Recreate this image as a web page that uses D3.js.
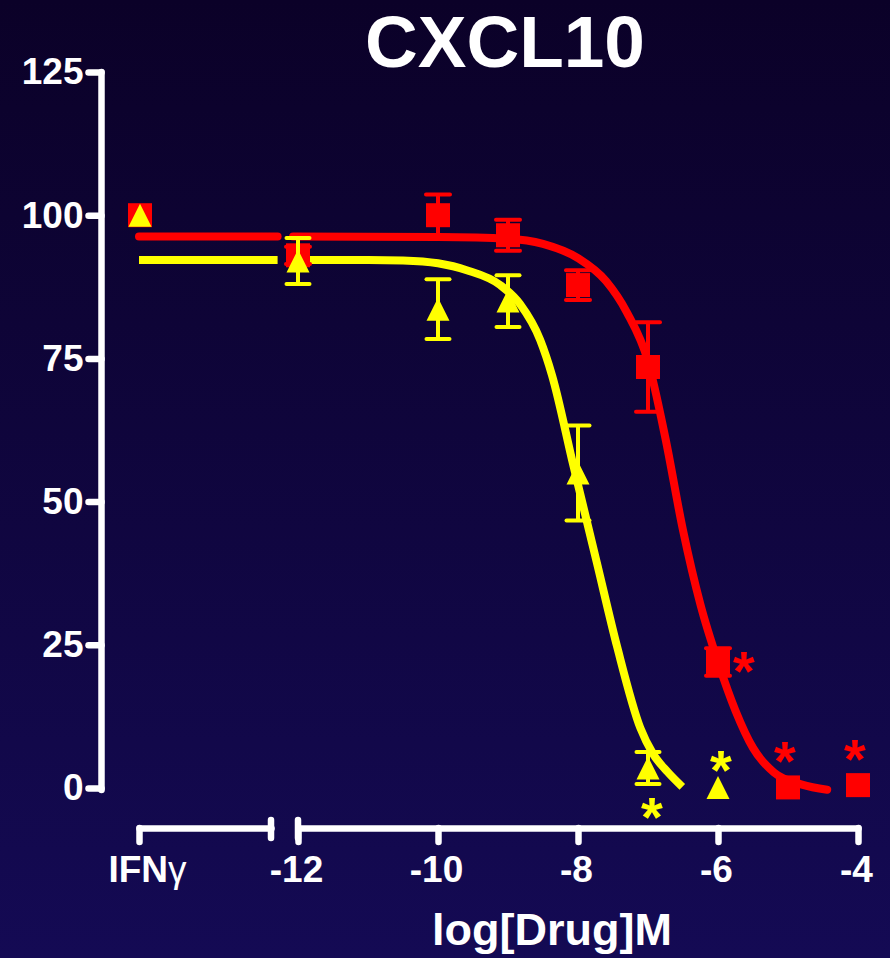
<!DOCTYPE html>
<meta charset="utf-8" />

<head>
  <style>
    body { margin: 0; }
    text { font-family: "Liberation Sans", Arial, sans-serif; font-weight: bold; fill: #fff; }
  </style>
  <script src="https://d3js.org/d3.v7.min.js"></script>
</head>

<body>
  <svg width="890" height="958"></svg>
  <script>
    // doses (log M) and responses (% of IFNγ control)
    const doses = [-12, -10, -9, -8, -7, -6, -5, -4];
    const redMean = [93, 100, 96.5, 87.8, 73.5, 22, 0.1, 0.5];
    const redSem = [1.5, 3.6, 2.7, 2.6, 7.8, 2.4, 0, 0];
    const redSig = [false, false, false, false, false, true, true, true];

    const yellowDoses = [-12, -10, -9, -8, -7, -6];
    const yellowMean = [92, 83.6, 85, 55, 3.5, 0.1];
    const yellowSem = [4, 5.2, 4.5, 8.3, 2.8, 0];
    const yellowSig = [false, false, false, false, true, true];

    const ctrlLabel = "IFNγ";
    const ctrlValue = 100;

    // fitted curves
    const redCurve = [[-12.07, 96.3], [-10, 96.2], [-9, 95.9], [-8.5, 95], [-8, 92.5], [-7.6, 88.5],
      [-7.3, 83], [-7, 74.5], [-6.75, 61], [-6.5, 45], [-6.25, 32], [-6, 22], [-5.75, 13.5],
      [-5.5, 7], [-5.2, 2.7], [-4.8, 0.6], [-4.44, -0.3]];
    const yellowCurve = [[-12.07, 92.2], [-11, 92.2], [-10.5, 92.1], [-10, 91.6], [-9.59, 90.4],
      [-9.11, 87.8], [-8.83, 84.5], [-8.54, 78.2], [-8.37, 72], [-8.07, 56.5], [-7.73, 39.3],
      [-7.44, 24.6], [-7.11, 10.5], [-6.93, 6], [-6.72, 2.8], [-6.51, 0.2]];

    const yTicks = [0, 25, 50, 75, 100, 125];
    const xTicks = [-12, -10, -8, -6, -4];

    const RED = "#ff0000", YEL = "#ffff00";
    const svg = d3.select("svg");

    // background gradient
    const grad = svg.append("defs").append("linearGradient")
      .attr("id", "bg").attr("x1", 0).attr("y1", 0).attr("x2", 0).attr("y2", 1);
    grad.append("stop").attr("offset", "0%").attr("stop-color", "#0b0128");
    grad.append("stop").attr("offset", "100%").attr("stop-color", "#140a54");
    svg.append("rect").attr("width", 890).attr("height", 958).attr("fill", "url(#bg)");

    const y = d3.scaleLinear().domain([0, 125]).range([788, 72]);
    const xLog = d3.scaleLinear().domain([-12, -4]).range([298, 858]);
    const xCtrl = d3.scaleLinear().domain([0, 1]).range([139, 271]);
    const axisY = 828;

    // title and axis title
    svg.append("text").attr("x", 505).attr("y", 67).attr("text-anchor", "middle")
      .style("font-size", "73px").text("CXCL10");
    svg.append("text").attr("x", 552).attr("y", 945).attr("text-anchor", "middle")
      .style("font-size", "45px").text("log[Drug]M");

    // y axis
    const gy = svg.append("g").attr("transform", "translate(101.5,0)")
      .call(d3.axisLeft(y).tickValues(yTicks).tickSize(13).tickSizeOuter(0).tickPadding(5));
    gy.select(".domain").attr("d", "M0," + y(125) + "V" + (y(0) + 2))
      .attr("stroke", "#fff").attr("stroke-width", 6.5).attr("stroke-linecap", "round");
    gy.selectAll(".tick line").attr("stroke", "#fff").attr("stroke-width", 6.5).attr("stroke-linecap", "round");
    gy.selectAll(".tick text").style("font-size", "37px").attr("fill", "#fff")
      .attr("font-family", null);

    // x axis, broken: control segment + log segment
    const gx = svg.append("g").attr("transform", "translate(0," + axisY + ")")
      .call(d3.axisBottom(xLog).tickValues(xTicks).tickFormat(d => String(d))
        .tickSize(14).tickSizeOuter(0).tickPadding(14));
    const gc = svg.append("g").attr("transform", "translate(0," + axisY + ")")
      .call(d3.axisBottom(xCtrl).tickValues([0]).tickFormat(() => ctrlLabel).tickSize(14).tickSizeOuter(0).tickPadding(14));
    [gx, gc].forEach(g => {
      g.select(".domain").attr("stroke", "#fff").attr("stroke-width", 6.5).attr("stroke-linecap", "round");
      g.selectAll(".tick line").attr("stroke", "#fff").attr("stroke-width", 6.5).attr("stroke-linecap", "round");
      g.selectAll(".tick text").style("font-size", "37px").attr("fill", "#fff").attr("font-family", null);
    });
    gx.selectAll(".tick text").attr("dx", -2);
    gc.selectAll(".tick text").attr("dx", 8).text("IFN")
      .append("tspan").style("font-weight", "normal").text(ctrlLabel.slice(3));
    // break caps
    [xCtrl(1), xLog(-12)].forEach(px => {
      svg.append("line").attr("x1", px).attr("x2", px).attr("y1", axisY - 8).attr("y2", axisY + 10)
        .attr("stroke", "#fff").attr("stroke-width", 6.5).attr("stroke-linecap", "round");
    });

    // curves
    const line = d3.line().x(d => xLog(d[0])).y(d => y(d[1])).curve(d3.curveMonotoneX);
    const flat = (c, v, cap) => svg.append("line")
      .attr("x1", xCtrl(0)).attr("x2", xCtrl(1.05)).attr("y1", y(v)).attr("y2", y(v))
      .attr("stroke", c).attr("stroke-width", 8).attr("stroke-linecap", cap);
    flat(YEL, yellowCurve[0][1], "butt");
    flat(RED, redCurve[0][1], "round");
    svg.append("path").datum(yellowCurve).attr("d", line).attr("fill", "none")
      .attr("stroke", YEL).attr("stroke-width", 8);
    svg.append("path").datum(redCurve).attr("d", line).attr("fill", "none")
      .attr("stroke", RED).attr("stroke-width", 8).attr("stroke-linecap", "round");

    function errorBars(xs, means, sems, color, capW) {
      const g = svg.append("g").attr("stroke", color).attr("stroke-width", 4);
      xs.forEach((d, i) => {
        if (!sems[i]) return;
        const px = xLog(d), top = y(means[i] + sems[i]), bot = y(means[i] - sems[i]);
        g.append("line").attr("x1", px).attr("x2", px).attr("y1", top).attr("y2", bot);
        [top, bot].forEach(py => g.append("line").attr("x1", px - capW / 2).attr("x2", px + capW / 2)
          .attr("y1", py).attr("y2", py).attr("stroke-linecap", "round"));
      });
    }

    // red squares
    errorBars(doses, redMean, redSem, RED, 24);
    const sq = 24;
    svg.append("g").selectAll("rect").data(doses.map((d, i) => [xLog(d), y(redMean[i])]).concat([[xCtrl(0) + 1, y(ctrlValue)]]))
      .join("rect").attr("x", d => d[0] - sq / 2).attr("y", d => d[1] - sq / 2)
      .attr("width", sq).attr("height", sq).attr("fill", RED);

    // yellow triangles
    errorBars(yellowDoses, yellowMean, yellowSem, YEL, 23);
    const tri = 23;
    const triPath = (cx, cy) => "M" + cx + "," + (cy - tri / 2) + "L" + (cx + tri / 2) + "," + (cy + tri / 2)
      + "L" + (cx - tri / 2) + "," + (cy + tri / 2) + "Z";
    svg.append("g").selectAll("path").data(yellowDoses.map((d, i) => [xLog(d), y(yellowMean[i])]).concat([[xCtrl(0) + 1, y(ctrlValue)]]))
      .join("path").attr("d", d => triPath(d[0], d[1])).attr("fill", YEL);

    // significance asterisks
    const star = (px, py, c) => svg.append("text").attr("x", px).attr("y", py + 30)
      .attr("text-anchor", "middle").style("font-size", "56px").style("fill", c).text("*");
    doses.forEach((d, i) => {
      if (!redSig[i]) return;
      if (d === -6) star(xLog(d) + 26, y(redMean[i]) - 2, RED);
      else star(xLog(d) - 3, y(redMean[i]) - 37, RED);
    });
    yellowDoses.forEach((d, i) => {
      if (!yellowSig[i]) return;
      if (d === -7) star(xLog(d) + 4, y(yellowMean[i]) + 38, YEL);
      else star(xLog(d) + 3, y(yellowMean[i]) - 28, YEL);
    });
  </script>
</body>
